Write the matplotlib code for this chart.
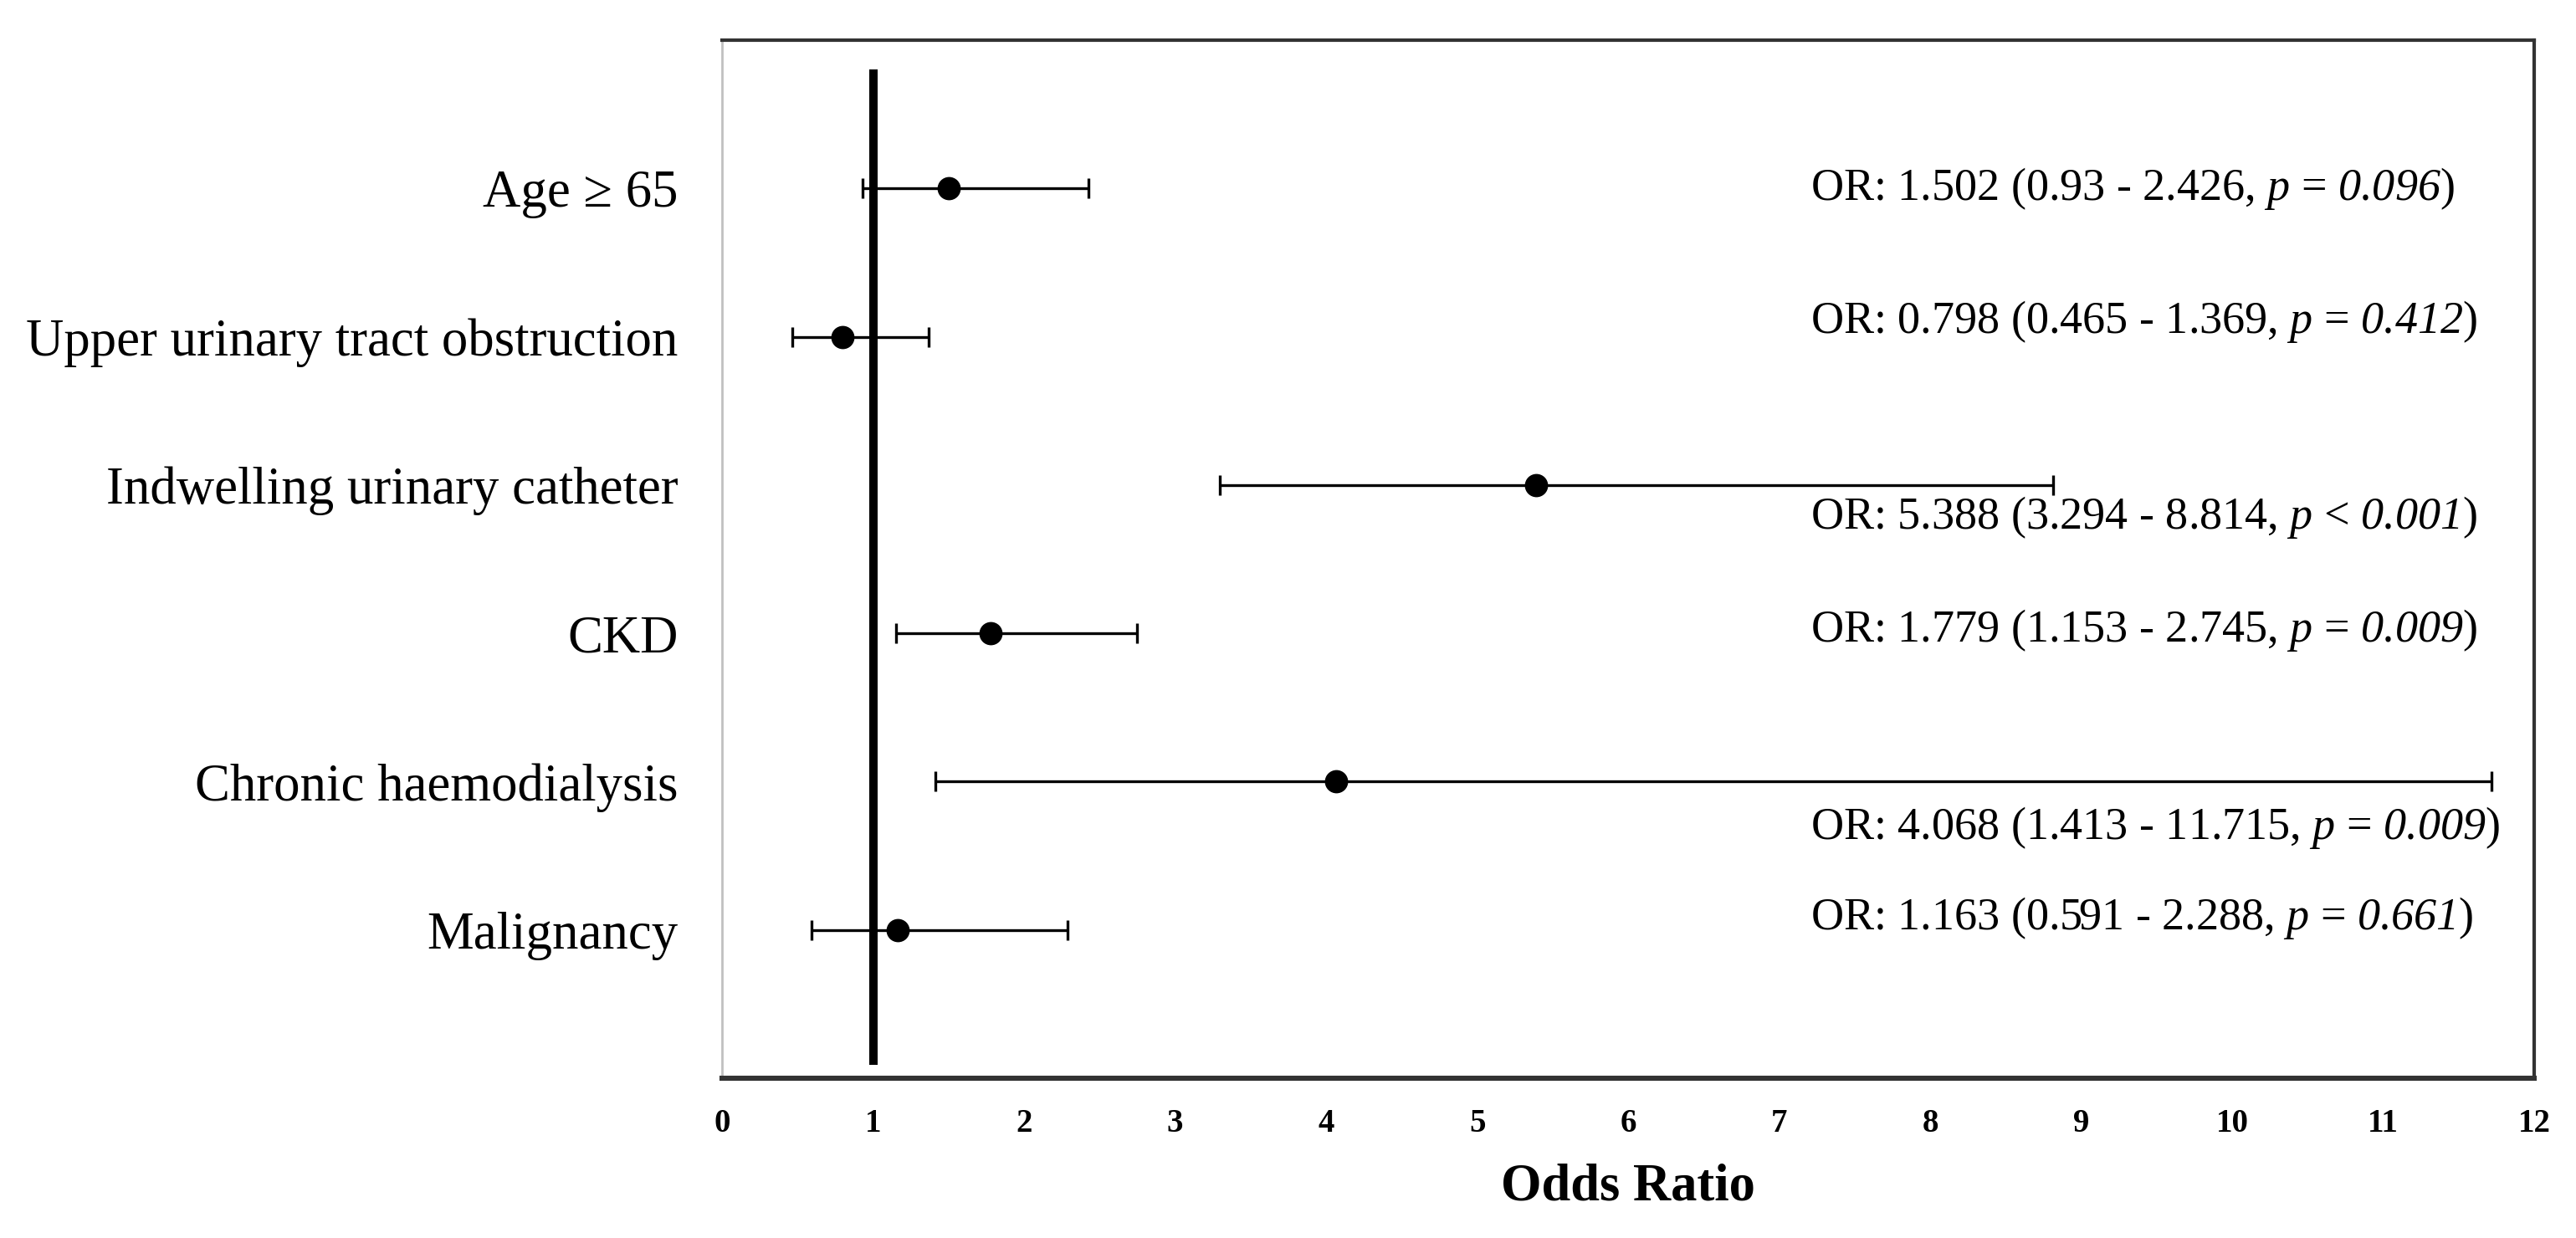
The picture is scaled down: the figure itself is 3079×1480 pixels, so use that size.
import matplotlib
matplotlib.use('Agg')
import matplotlib.pyplot as plt

plt.rcParams['font.family'] = ['Liberation Serif', 'DejaVu Serif']
# math parts only hold the italic p and p-value, so both math fonts are italic
plt.rcParams['mathtext.fontset'] = 'custom'
plt.rcParams['mathtext.rm'] = 'Liberation Serif:italic'
plt.rcParams['mathtext.it'] = 'Liberation Serif:italic'

# data
factors = ['Age \u2265 65', 'Upper urinary tract obstruction', 'Indwelling urinary catheter',
           'CKD', 'Chronic haemodialysis', 'Malignancy']
odds = [1.502, 0.798, 5.388, 1.779, 4.068, 1.163]
ci_low = [0.93, 0.465, 3.294, 1.153, 1.413, 0.591]
ci_high = [2.426, 1.369, 8.814, 2.745, 11.715, 2.288]
ci_low_txt = ['0.93', '0.465', '3.294', '1.153', '1.413', '0.591']
p_sign = ['=', '=', '<', '=', '=', '=']
p_vals = ['0.096', '0.412', '0.001', '0.009', '0.009', '0.661']
xticks = list(range(0, 13))

rows = list(range(1, len(factors) + 1))
# vertical nudges of the OR labels (row units)
txt_shift = [0.0, -0.1, 0.22, -0.02, 0.31, -0.08]

fig = plt.figure(figsize=(15.395, 7.4), dpi=200)
ax = fig.add_axes([0.2803, 0.129, 0.7035, 0.8386])

ax.plot([1, 1], [0.2, 6.91], color='black', lw=3.6, solid_capstyle='butt', zorder=2)

err_lo = [o - l for o, l in zip(odds, ci_low)]
err_hi = [h - o for o, h in zip(odds, ci_high)]
ax.errorbar(odds, rows, xerr=[err_lo, err_hi], fmt='o', color='black', ms=9,
            elinewidth=1.2, capsize=4.2, capthick=1.2, zorder=3)

for i in range(len(factors)):
    s = ('OR: %.3f (%s - %.3f, $p$ %s $%s$)'
         % (odds[i], ci_low_txt[i], ci_high[i], p_sign[i], p_vals[i]))
    ax.text(7.21, rows[i] + txt_shift[i], s, fontsize=19.5, ha='left', va='center')

ax.set_xlim(0, 12)
ax.set_ylim(7, 0)
ax.set_xticks(xticks)
ax.set_xticklabels([str(t) for t in xticks], fontsize=14, fontweight='bold')
ax.set_yticks(rows)
ax.set_yticklabels(factors, fontsize=22.6)
ax.tick_params(axis='x', length=0, pad=13)
ax.tick_params(axis='y', length=0, pad=19)

ax.set_xlabel('Odds Ratio', fontsize=22.5, fontweight='bold')
ax.xaxis.set_label_coords(0.5, -0.082)

ax.spines['left'].set_color('#c0c0c0')
ax.spines['left'].set_linewidth(1.0)
ax.spines['top'].set_color('#333333')
ax.spines['top'].set_linewidth(1.5)
ax.spines['right'].set_color('#333333')
ax.spines['right'].set_linewidth(1.5)
ax.spines['bottom'].set_color('#333333')
ax.spines['bottom'].set_linewidth(2.2)

fig.savefig('out.png', dpi=200)
